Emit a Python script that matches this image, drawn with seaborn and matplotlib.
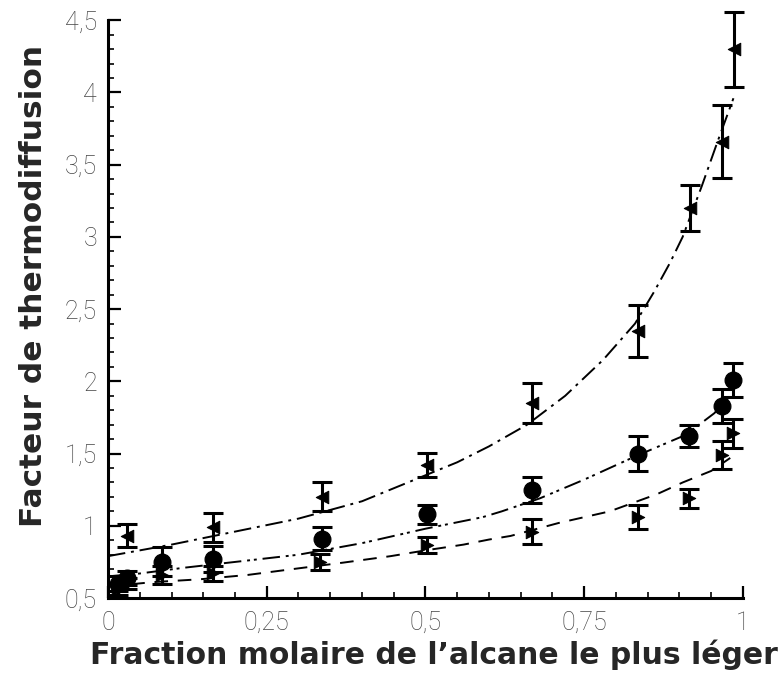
import numpy as np
import pandas as pd
import matplotlib
matplotlib.use("Agg")
import matplotlib.pyplot as plt
from matplotlib.ticker import MultipleLocator
import seaborn as sns

# measured points (x = mole fraction, y = thermodiffusion factor, e = error)
xa = [0.03, 0.165, 0.337, 0.503, 0.668, 0.834, 0.917, 0.967, 0.986]
ya = [0.93, 0.99, 1.20, 1.42, 1.85, 2.35, 3.20, 3.66, 4.30]
ea = [0.08, 0.10, 0.10, 0.085, 0.14, 0.18, 0.16, 0.25, 0.26]

xb = [0.015, 0.03, 0.085, 0.165, 0.337, 0.503, 0.668, 0.834, 0.915, 0.967, 0.984]
yb = [0.60, 0.64, 0.75, 0.77, 0.91, 1.08, 1.25, 1.50, 1.62, 1.83, 2.01]
eb = [0.05, 0.05, 0.10, 0.09, 0.08, 0.065, 0.09, 0.12, 0.075, 0.12, 0.12]

xc = [0.015, 0.03, 0.085, 0.165, 0.334, 0.503, 0.668, 0.834, 0.915, 0.967, 0.984]
yc = [0.56, 0.60, 0.66, 0.67, 0.75, 0.87, 0.96, 1.06, 1.19, 1.49, 1.64]
ec = [0.04, 0.04, 0.06, 0.05, 0.055, 0.055, 0.085, 0.085, 0.065, 0.095, 0.10]

# fitted curves
fxa = [0, 0.05, 0.1, 0.2, 0.3, 0.4, 0.45, 0.5, 0.55, 0.6, 0.66, 0.72, 0.78, 0.83, 0.86, 0.885, 0.905, 0.935, 0.96, 0.985]
fya = [0.79, 0.83, 0.87, 0.96, 1.05, 1.17, 1.26, 1.35, 1.44, 1.55, 1.70, 1.90, 2.15, 2.40, 2.62, 2.82, 3.00, 3.35, 3.66, 3.96]

fxb = [0, 0.05, 0.12, 0.2, 0.3, 0.35, 0.4, 0.5, 0.59, 0.62, 0.68, 0.75, 0.83, 0.91, 0.955, 0.98]
fyb = [0.65, 0.67, 0.71, 0.75, 0.80, 0.84, 0.88, 0.98, 1.06, 1.10, 1.19, 1.32, 1.48, 1.63, 1.78, 1.90]

fxc = [0, 0.07, 0.145, 0.22, 0.29, 0.37, 0.445, 0.5, 0.56, 0.6, 0.634, 0.71, 0.79, 0.865, 0.905, 0.95, 0.98]
fyc = [0.58, 0.61, 0.63, 0.66, 0.70, 0.745, 0.79, 0.83, 0.87, 0.905, 0.93, 1.02, 1.10, 1.22, 1.30, 1.38, 1.47]

xticks = [0, 0.25, 0.5, 0.75, 1]
xticklabels = ["0", "0,25", "0,5", "0,75", "1"]
yticks = [0.5, 1, 1.5, 2, 2.5, 3, 3.5, 4, 4.5]
yticklabels = ["0,5", "1", "1,5", "2", "2,5", "3", "3,5", "4", "4,5"]

sns.set_style("ticks")
plt.rcParams["font.family"] = ["DejaVu Sans"]

fig = plt.figure(figsize=(7.81, 6.75), dpi=100)
ax = fig.add_axes([0.1383, 0.114, 0.813, 0.856])

curves = [
    (fxa, fya, (0, (9, 3, 1.5, 3))),
    (fxb, fyb, (0, (9, 3, 1.5, 2, 1.5, 3))),
    (fxc, fyc, (0, (7, 5))),
]
for fx, fy, ls in curves:
    df = pd.DataFrame({"x": fx, "y": fy})
    sns.lineplot(data=df, x="x", y="y", ax=ax, color="black", lw=1.4,
                 linestyle=ls, sort=True, estimator=None)

series = [(xa, ya, ea, "<", 9), (xb, yb, eb, "o", 12), (xc, yc, ec, ">", 9)]
for x, y, e, m, ms in series:
    ax.errorbar(x, y, yerr=e, fmt="none", ecolor="black", elinewidth=2.2,
                capsize=7.5, capthick=2.2, clip_on=False, zorder=3)
    df = pd.DataFrame({"x": x, "y": y})
    sns.scatterplot(data=df, x="x", y="y", ax=ax, marker=m, s=ms ** 2,
                    color="black", edgecolor="black", zorder=4, clip_on=False)

ax.set_xlim(0, 1)
ax.set_ylim(0.5, 4.5)
ax.set_xticks(xticks)
ax.set_xticklabels(xticklabels)
ax.set_yticks(yticks)
ax.set_yticklabels(yticklabels)
ax.xaxis.set_minor_locator(MultipleLocator(0.05))
ax.yaxis.set_minor_locator(MultipleLocator(0.1))
ax.tick_params(which="major", direction="in", length=9, width=1.6,
               labelsize=18, colors="black")
ax.tick_params(axis="x", which="major", pad=9)
ax.tick_params(axis="y", which="major", pad=8)
ax.tick_params(which="minor", direction="in", length=4.5, width=1.4)
for lab in ax.get_xticklabels() + ax.get_yticklabels():
    lab.set_fontfamily(["Roboto", "DejaVu Sans"])
    lab.set_fontweight("light")
    lab.set_color("#444444")

for s in ["left", "bottom"]:
    ax.spines[s].set_linewidth(2.2)
    ax.spines[s].set_color("black")
sns.despine(ax=ax)

ax.set_xlabel("Fraction molaire de l’alcane le plus léger", fontsize=21.5,
              fontweight="bold")
ax.xaxis.set_label_coords(0.513, -0.072)
ax.set_ylabel("Facteur de thermodiffusion", fontsize=22.5,
              fontweight="bold")
ax.yaxis.set_label_coords(-0.095, 0.54)

fig.savefig("out.png", dpi=100)
